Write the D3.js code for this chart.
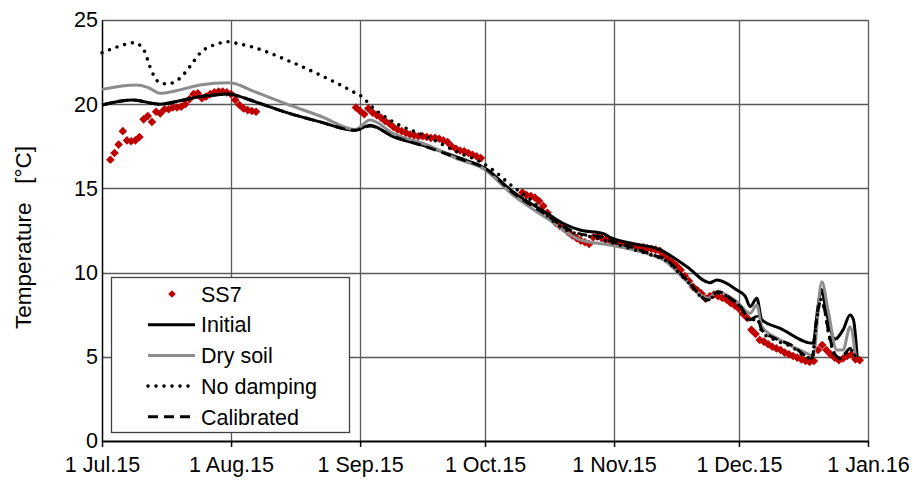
<!DOCTYPE html>
<html>
<head>
<meta charset="utf-8">
<script src="https://cdn.jsdelivr.net/npm/d3@7/dist/d3.min.js"></script>
<style>
  html, body { margin: 0; padding: 0; background: #fff; }
  svg { display: block; font-family: "Liberation Sans", Arial, sans-serif; }
</style>
</head>
<body>
<svg id="chart" width="913" height="480"></svg>
<script>
// Day offsets are counted from 1 Jul 2015 (UTC).
const originDate = Date.UTC(2015, 6, 1);

const xTickDates = ["2015-07-01", "2015-08-01", "2015-09-01", "2015-10-01", "2015-11-01", "2015-12-01", "2016-01-01"];
const xTickLabels = ["1 Jul.15", "1 Aug.15", "1 Sep.15", "1 Oct.15", "1 Nov.15", "1 Dec.15", "1 Jan.16"];
const yTicks = [0, 5, 10, 15, 20, 25];

// Measured temperature at SS7 (daily)
const ss7Days = [
  2, 3, 4, 5, 6, 7, 8, 9, 10, 11, 12, 13, 14, 15, 16, 17, 18, 19, 20, 21, 22, 23, 24, 25, 26, 27, 28, 29, 30, 31, 32, 33, 34, 35, 36, 37,
  61, 62, 63, 64, 65, 66, 67, 68, 69, 70, 71, 72, 73, 74, 75, 76, 77, 78, 79, 80, 81, 82, 83, 84, 85, 86, 87, 88, 89, 90, 91,
  101, 102, 103, 104, 105, 106, 107, 108, 109, 110, 111, 112, 113, 114, 115, 116, 117, 118, 119, 120, 121, 122, 123, 124, 125,
  126, 127, 128, 129, 130, 131, 132, 133, 134, 135, 136, 137, 138, 139, 140, 141, 142, 143, 144, 145, 146, 147, 148, 149, 150,
  151, 152, 153, 154, 155, 156, 157, 158, 159, 160, 161, 162, 163, 164, 165, 166, 167, 168, 169, 170, 171, 172, 173, 174, 175,
  176, 177, 178, 179, 180, 181, 182
];
const ss7Temp = [
  16.7, 17.1, 17.6, 18.4, 17.85, 17.8, 17.85, 18.05, 19.1, 19.3, 18.95, 19.55, 19.45, 19.7, 19.7, 19.8, 19.8, 19.85, 20.0, 20.3,
  20.6, 20.65, 20.35, 20.45, 20.6, 20.7, 20.75, 20.75, 20.7, 20.6, 20.25, 19.95, 19.75, 19.65, 19.6, 19.55,
  19.8, 19.6, 19.4, 19.75, 19.5, 19.35, 19.2, 19.0, 18.85, 18.65, 18.5, 18.4, 18.3, 18.2, 18.15, 18.1, 18.1, 18.05, 18.0, 18.0,
  17.95, 17.85, 17.75, 17.5, 17.35, 17.25, 17.2, 17.1, 17.0, 16.9, 16.8,
  14.75, 14.6, 14.55, 14.45, 14.25, 13.95, 13.55, 13.2, 12.95, 12.75, 12.6, 12.4, 12.2, 12.05, 11.9, 11.8, 11.7, 12.1, 12.15,
  12.05, 11.95, 11.9, 11.8, 11.7, 11.65, 11.6, 11.6, 11.55, 11.5, 11.5, 11.45, 11.4, 11.35, 11.3, 11.05, 10.8, 10.6, 10.4,
  10.15, 9.8, 9.5, 9.15, 8.95, 8.75, 8.45, 8.6, 8.7, 8.6, 8.5, 8.4, 8.2, 8.05, 7.85, 7.55, 7.3, 6.6, 6.35, 6.0, 5.9, 5.75,
  5.6, 5.5, 5.4, 5.25, 5.15, 5.05, 4.95, 4.85, 4.75, 4.7, 4.75, 5.4, 5.7, 5.4, 5.15, 4.95, 4.8, 4.9, 5.05, 5.15, 4.85, 4.8
];

// Simulated temperature, initial model
const initialDays = [0, 7.4, 13.9, 18.7, 23.5, 27.1, 30.3, 33.2, 35.6, 44.4, 52.4, 60.8, 64.4, 69.9, 78.1, 86, 92, 98.7, 106.9,
  110.7, 114.8, 120.3, 122, 126.8, 134, 140.5, 146, 147.7, 152.5, 154.5, 155.7, 157.3, 158.5, 162.9, 170.8, 172, 172.8, 173.8,
  175, 176.1, 178, 179.7, 180.5, 181.4];
const initialTemp = [19.95, 20.25, 20.0, 20.2, 20.45, 20.55, 20.6, 20.45, 20.25, 19.5, 18.95, 18.45, 18.75, 18.07, 17.48, 16.79,
  16.2, 14.8, 13.52, 12.93, 12.53, 12.33, 12.1, 11.76, 11.36, 10.35, 9.4, 9.56, 8.97, 8.6, 7.98, 8.47, 7.19, 6.69, 5.8, 8.0,
  9.0, 7.9, 6.6, 6.05, 6.6, 7.48, 7.2, 5.0];

// Simulated temperature, dry soil
const drySoilDays = [0, 8.2, 11, 13.9, 18.7, 23.5, 30.3, 31.5, 36.3, 44.4, 52.4, 60.8, 64.4, 69.9, 78.1, 86, 91.5, 98.7, 106.9,
  114.8, 122, 126.8, 132.5, 134.9, 140.5, 145.5, 147.9, 152.5, 155.7, 157.3, 158.5, 162.9, 170.1, 170.8, 172.9, 174.4, 176.5,
  178, 179.7, 181];
const drySoilTemp = [20.88, 21.14, 21.0, 20.65, 20.85, 21.14, 21.28, 21.25, 20.78, 20.0, 19.3, 18.5, 19.06, 18.27, 17.58, 16.69,
  16.19, 14.61, 13.22, 11.95, 11.64, 11.4, 11.0, 10.75, 9.46, 8.47, 8.87, 8.27, 7.58, 8.08, 6.79, 6.0, 5.1, 5.0, 9.46, 7.78,
  5.4, 5.4, 6.79, 5.0];

// Simulated temperature, no damping
const noDampingDays = [0, 3.8, 7.9, 9.1, 10.3, 11.5, 13.5, 15.6, 18.7, 21.1, 23.5, 27.6, 30.3, 31, 36.3, 44.4, 52.4, 60.3, 62.7,
  64.4, 69.9, 78.1, 86, 90.8, 93.9, 98.7, 102.1, 110.7, 118.9, 126.8, 132.5, 134.9, 140.5, 145.5, 147.9, 151.5, 153.2, 155.7,
  157.3, 158.5, 161.6, 165.6, 169.4, 170.6, 171.4, 172.7, 173.4, 174.6, 176.2, 177.4, 179.7, 181];
const noDampingTemp = [23.05, 23.41, 23.65, 23.5, 23.1, 22.23, 21.34, 21.2, 21.54, 22.23, 23.02, 23.57, 23.71, 23.68, 23.38,
  22.62, 21.73, 20.74, 20.4, 19.95, 18.96, 18.07, 17.08, 16.59, 16.09, 15.1, 14.5, 12.63, 12.04, 11.44, 11.0, 10.8, 9.5, 8.35,
  8.8, 8.35, 8.0, 7.1, 7.3, 6.5, 6.0, 5.6, 4.95, 4.9, 6.6, 8.4, 8.0, 6.3, 5.05, 4.9, 5.45, 5.0];

// Simulated temperature, calibrated model
const calibratedDays = [0, 7.4, 13.9, 18.7, 23.5, 27.1, 30.3, 33.2, 35.6, 44.4, 52.4, 60.8, 64.4, 69.9, 78.1, 86, 92, 98.7,
  106.9, 110.7, 114.8, 120.3, 122, 126.8, 132.5, 134.9, 140.5, 145.5, 147.9, 151.5, 153.2, 155.7, 157.3, 158.5, 161.6, 165.6,
  169.4, 170.6, 171.4, 172.7, 173.4, 174.6, 176.2, 177.4, 179.7, 181];
const calibratedTemp = [19.95, 20.25, 20.0, 20.2, 20.45, 20.55, 20.6, 20.45, 20.25, 19.5, 18.95, 18.45, 18.7, 18.1, 17.45,
  16.75, 16.2, 14.75, 13.4, 12.75, 12.3, 12.1, 11.9, 11.55, 11.04, 10.85, 9.56, 8.37, 8.87, 8.37, 8.05, 7.2, 7.4, 6.6, 6.1,
  5.7, 5.0, 4.91, 6.79, 8.3, 7.98, 6.4, 5.1, 4.91, 5.5, 5.0];

const seriesNames = ["SS7", "Initial", "Dry soil", "No damping", "Calibrated"];

const toDate = d => new Date(originDate + d * 864e5);
const parseDay = s => new Date(s + "T00:00:00Z");

const svg = d3.select("#chart");
const margin = { left: 102, right: 45, top: 20, bottom: 39 };
const W = 913, H = 480;
const fontFamily = "'Liberation Sans', Arial, sans-serif";
const fontSize = 21.5;

const x = d3.scaleUtc()
  .domain([parseDay(xTickDates[0]), parseDay(xTickDates[xTickDates.length - 1])])
  .range([margin.left, W - margin.right]);
const y = d3.scaleLinear().domain([0, 25]).range([H - margin.bottom, margin.top]);

const gridColor = "#5a5a5a";

// Grid
const grid = svg.append("g");
grid.selectAll("line.h").data(yTicks.slice(1)).join("line")
  .attr("x1", x.range()[0]).attr("x2", x.range()[1])
  .attr("y1", d => Math.round(y(d)) + 0.5).attr("y2", d => Math.round(y(d)) + 0.5)
  .attr("stroke", gridColor).attr("stroke-width", 1.3);
grid.selectAll("line.v").data(xTickDates.slice(1)).join("line")
  .attr("x1", d => Math.round(x(parseDay(d))) + 0.5).attr("x2", d => Math.round(x(parseDay(d))) + 0.5)
  .attr("y1", y(0)).attr("y2", y(25))
  .attr("stroke", gridColor).attr("stroke-width", 1.3);

// Axes
const xAxis = d3.axisBottom(x)
  .tickValues(xTickDates.map(parseDay))
  .tickFormat((d, i) => xTickLabels[i])
  .tickSizeInner(6).tickSizeOuter(0).tickPadding(10);
const gx = svg.append("g").attr("transform", `translate(0,${y(0)})`).call(xAxis);
gx.select(".domain").attr("stroke", "#000").attr("stroke-width", 2);
gx.selectAll(".tick line").attr("stroke", "#000").attr("stroke-width", 1.5);
gx.selectAll(".tick text").attr("font-size", fontSize).attr("fill", "#000").attr("font-family", fontFamily);

const yAxis = d3.axisLeft(y).tickValues(yTicks).tickFormat(d3.format("d"))
  .tickSizeInner(0).tickSizeOuter(0).tickPadding(4);
const gy = svg.append("g").attr("transform", `translate(${margin.left},0)`).call(yAxis);
gy.select(".domain").attr("stroke", "#000").attr("stroke-width", 1.5);
gy.selectAll(".tick text").attr("font-size", fontSize).attr("fill", "#000").attr("font-family", fontFamily);

svg.append("text")
  .attr("transform", `translate(31,${(y(0) + y(25)) / 2 + 7}) rotate(-90)`)
  .attr("text-anchor", "middle")
  .attr("font-size", 22.5)
  .attr("fill", "#000")
  .attr("xml:space", "preserve")
  .style("white-space", "pre")
  .text("Temperature   [°C]");

// Measured points
const diamond = "M0,-4.3L4.3,0L0,4.3L-4.3,0Z";
svg.append("g").selectAll("path").data(ss7Days.map((d, i) => [d, ss7Temp[i]])).join("path")
  .attr("d", diamond)
  .attr("transform", d => `translate(${x(toDate(d[0]))},${y(d[1])})`)
  .attr("fill", "#c00000");

// Simulated lines
const line = d3.line().x(d => x(toDate(d[0]))).y(d => y(d[1])).curve(d3.curveMonotoneX);
const lineStyles = [
  { days: initialDays, temp: initialTemp, color: "#000", width: 3, dash: null, cap: "butt" },
  { days: drySoilDays, temp: drySoilTemp, color: "#8c8c8c", width: 3, dash: null, cap: "butt" },
  { days: noDampingDays, temp: noDampingTemp, color: "#000", width: 3.6, dash: "0 8", cap: "round" },
  { days: calibratedDays, temp: calibratedTemp, color: "#000", width: 3, dash: "10 6", cap: "butt" }
];
lineStyles.forEach(s => {
  svg.append("path")
    .datum(s.days.map((d, i) => [d, s.temp[i]]))
    .attr("d", line)
    .attr("fill", "none")
    .attr("stroke", s.color)
    .attr("stroke-width", s.width)
    .attr("stroke-linecap", s.cap)
    .attr("stroke-linejoin", "round")
    .attr("stroke-dasharray", s.dash);
});

// Legend
const lg = svg.append("g");
lg.append("rect").attr("x", 111.5).attr("y", 277.5).attr("width", 238).attr("height", 155)
  .attr("fill", "#fff").attr("stroke", "#404040").attr("stroke-width", 1.3);
const rowY = i => 294 + i * 30.7;
seriesNames.forEach((name, i) => {
  if (i === 0) {
    lg.append("path").attr("d", "M0,-3.8L3.8,0L0,3.8L-3.8,0Z")
      .attr("transform", `translate(172,${rowY(i)})`).attr("fill", "#c00000");
  } else {
    const s = lineStyles[i - 1];
    lg.append("line").attr("x1", 148).attr("x2", 195).attr("y1", rowY(i)).attr("y2", rowY(i))
      .attr("stroke", s.color).attr("stroke-width", s.width)
      .attr("stroke-linecap", s.cap).attr("stroke-dasharray", s.dash);
  }
  lg.append("text").attr("x", 201).attr("y", rowY(i)).attr("dy", "0.36em")
    .attr("font-size", fontSize).attr("fill", "#000").attr("font-family", fontFamily).text(name);
});
</script>
</body>
</html>
